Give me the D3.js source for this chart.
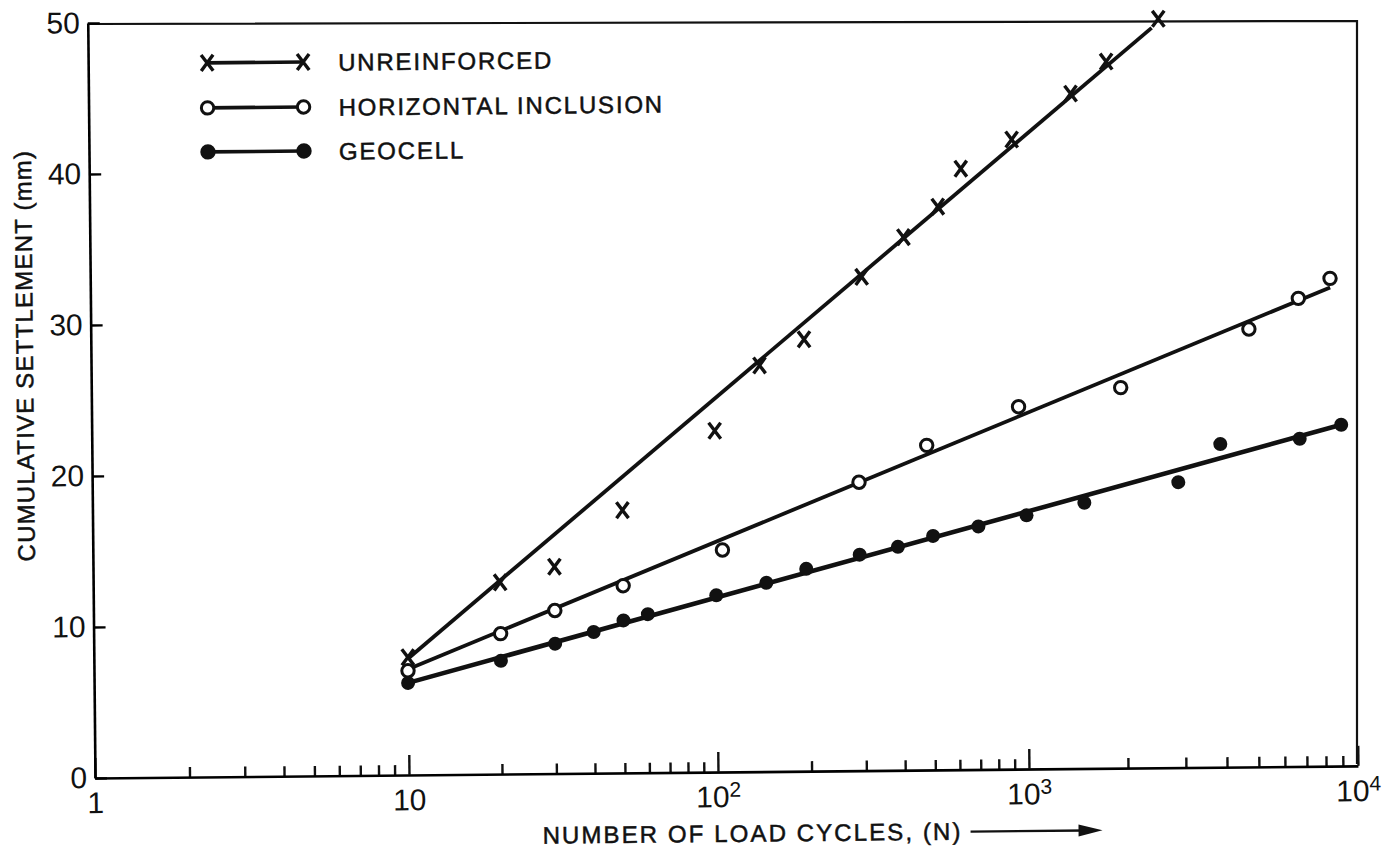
<!DOCTYPE html>
<html>
<head>
<meta charset="utf-8">
<script src="https://d3js.org/d3.v7.min.js"></script>
<style>
body { margin: 0; background: #fff; }
svg { display: block; }
text { font-family: "Liberation Sans", Arial, sans-serif; fill: #111; }
</style>
</head>
<body>
<div id="svg_div"><svg></svg></div>
<script>
// values (N = load cycles, S = settlement in mm)
var unreinfN = [10, 20, 30, 50, 100, 140, 195, 300, 410, 530, 630, 920, 1400, 1800, 2600];
var unreinfS = [7.8, 12.7, 13.7, 17.4, 22.6, 26.9, 28.6, 32.7, 35.3, 37.3, 39.8, 41.7, 44.7, 46.8, 49.6];
var horizN = [10, 20, 30, 50, 105, 290, 480, 950, 1950, 4800, 6800, 8500];
var horizS = [6.9, 9.3, 10.8, 12.4, 14.7, 19.1, 21.5, 24.0, 25.2, 29.0, 31.0, 32.3];
var geoN = [10, 20, 30, 40, 50, 60, 100, 145, 195, 290, 385, 500, 700, 1000, 1500, 2900, 3900, 6800, 9100];
var geoS = [6.1, 7.5, 8.6, 9.35, 10.1, 10.5, 11.7, 12.5, 13.4, 14.3, 14.8, 15.5, 16.1, 16.8, 17.6, 18.9, 21.4, 21.7, 22.6];

// fitted straight lines (end points)
var unreinfFitN = [10, 2480];
var unreinfFitS = [7.7, 49.0];
var horizFitN = [10, 8500];
var horizFitS = [7.0, 31.7];
var geoFitN = [10, 9100];
var geoFitS = [6.1, 22.6];

// axes
var xMajor = [1, 10, 100, 1000, 10000];
var xMajorBase = ["1", "10", "10", "10", "10"];
var xMajorExp = ["", "", "2", "3", "4"];
var yTicks = [0, 10, 20, 30, 40, 50];
var legendNames = ["UNREINFORCED", "HORIZONTAL INCLUSION", "GEOCELL"];

var w = 1390, h = 853;
var x0 = 95, yBase = 778;
var ink = "#111";

var svg = d3.select("#svg_div").select("svg")
	.attr("width", w)
	.attr("height", h);

var xScale = d3.scaleLog()
	.domain(xMajor)
	.range([95, 409, 718, 1029, 1358]);
var yScale = d3.scaleLinear()
	.domain([0, 50])
	.range([yBase, 23]);

// top and right edge of the frame (these stay level in the scan)
svg.append("path")
	.attr("d", "M" + (xScale(1) - 6) + "," + (yScale(50) + 1) +
		"L" + (xScale(10000) - 1) + "," + (yScale(50) - 2) +
		"L" + (xScale(10000) - 1) + "," + (yScale(0) - 14))
	.attr("fill", "none")
	.attr("stroke", ink)
	.attr("stroke-width", 2.2);

// the rest of the scanned figure is a little tilted
var g = svg.append("g")
	.attr("transform", "rotate(-0.55," + x0 + "," + yBase + ")");

// minor ticks 2..9 in every decade
var xMinor = [];
for (var d = 1; d < 10000; d *= 10)
	for (var k = 2; k < 10; k++)
		xMinor.push(d * k);

var xMinorAxis = g.append("g")
	.attr("transform", "translate(0," + yBase + ")")
	.call(d3.axisBottom(xScale).tickValues(xMinor).tickSizeInner(-10).tickSizeOuter(0).tickFormat(""));
xMinorAxis.select(".domain").remove();

var xAxis = g.append("g")
	.attr("transform", "translate(0," + yBase + ")")
	.call(d3.axisBottom(xScale).tickValues(xMajor).tickSizeInner(-20).tickSizeOuter(0).tickPadding(14)
		.tickFormat(function(d, i) { return xMajorBase[i]; }));
xAxis.select(".domain").attr("stroke-width", 2.6);
xAxis.selectAll("text")
	.attr("font-size", "30px")
	.attr("font-family", "Liberation Sans, Arial, sans-serif")
	.each(function(d, i) {
		if (xMajorExp[i] != "") {
			d3.select(this).append("tspan")
				.attr("dy", "-0.5em")
				.attr("font-size", "21px")
				.text(xMajorExp[i]);
		}
	});
g.selectAll(".tick line").attr("stroke", ink).attr("stroke-width", 2.4);

var yAxis = g.append("g")
	.attr("transform", "translate(" + x0 + ",0)")
	.call(d3.axisLeft(yScale).tickValues(yTicks).tickSizeInner(-12).tickSizeOuter(0).tickPadding(8));
yAxis.select(".domain").attr("stroke-width", 2.6);
yAxis.selectAll("text")
	.attr("font-size", "30px")
	.attr("font-family", "Liberation Sans, Arial, sans-serif");
yAxis.selectAll(".tick line").attr("stroke-width", 2.4);

// axis titles
g.append("text")
	.attr("transform", "translate(37,355) rotate(-90)")
	.attr("text-anchor", "middle")
	.attr("font-size", "24px")
	.attr("letter-spacing", "1.2px")
	.attr("stroke", ink)
	.attr("stroke-width", 0.5)
	.text("CUMULATIVE SETTLEMENT (mm)");

var xTitle = g.append("text")
	.attr("x", 752)
	.attr("y", 848)
	.attr("text-anchor", "middle")
	.attr("font-size", "24px")
	.attr("letter-spacing", "2.1px")
	.attr("stroke", ink)
	.attr("stroke-width", 0.5)
	.text("NUMBER OF LOAD CYCLES, (N)");
var tEnd = 752 + xTitle.node().getComputedTextLength() / 2;
g.append("line")
	.attr("x1", tEnd + 8).attr("x2", tEnd + 122)
	.attr("y1", 840).attr("y2", 840)
	.attr("stroke", ink).attr("stroke-width", 2.4);
g.append("path")
	.attr("d", "M" + (tEnd + 116) + ",834L" + (tEnd + 140) + ",840L" + (tEnd + 116) + ",846Z")
	.attr("fill", ink);

// fitted lines
var line = d3.line()
	.x(function(d) { return xScale(d[0]); })
	.y(function(d) { return yScale(d[1]); });

function pairs(a, b) {
	return a.map(function(v, i) { return [v, b[i]]; });
}

g.append("path").datum(pairs(unreinfFitN, unreinfFitS))
	.attr("d", line).attr("fill", "none").attr("stroke", ink).attr("stroke-width", 3.8);
g.append("path").datum(pairs(horizFitN, horizFitS))
	.attr("d", line).attr("fill", "none").attr("stroke", ink).attr("stroke-width", 3.8);
g.append("path").datum(pairs(geoFitN, geoFitS))
	.attr("d", line).attr("fill", "none").attr("stroke", ink).attr("stroke-width", 4.6);

// markers
var crossPath = "M-6,-8L6,8M6,-8L-6,8";

g.selectAll(".cross")
	.data(pairs(unreinfN, unreinfS))
	.enter()
	.append("path")
	.attr("class", "cross")
	.attr("transform", function(d) { return "translate(" + xScale(d[0]) + "," + yScale(d[1]) + ")"; })
	.attr("d", crossPath)
	.attr("fill", "none")
	.attr("stroke", ink)
	.attr("stroke-width", 3.4);

g.selectAll(".ring")
	.data(pairs(horizN, horizS))
	.enter()
	.append("circle")
	.attr("class", "ring")
	.attr("cx", function(d) { return xScale(d[0]); })
	.attr("cy", function(d) { return yScale(d[1]); })
	.attr("r", 6.2)
	.attr("fill", "#fff")
	.attr("stroke", ink)
	.attr("stroke-width", 3);

g.selectAll(".dot")
	.data(pairs(geoN, geoS))
	.enter()
	.append("circle")
	.attr("class", "dot")
	.attr("cx", function(d) { return xScale(d[0]); })
	.attr("cy", function(d) { return yScale(d[1]); })
	.attr("r", 7)
	.attr("fill", ink);

// legend
var legY = [64, 109, 153];
var legX1 = 214, legX2 = 310;
legendNames.forEach(function(name, i) {
	var y = legY[i];
	g.append("line")
		.attr("x1", legX1).attr("x2", legX2)
		.attr("y1", y).attr("y2", y)
		.attr("stroke", ink).attr("stroke-width", 3.6);
	[legX1, legX2].forEach(function(x) {
		if (i == 0) {
			g.append("path")
				.attr("transform", "translate(" + x + "," + y + ")")
				.attr("d", crossPath)
				.attr("fill", "none").attr("stroke", ink).attr("stroke-width", 3.4);
		} else {
			g.append("circle")
				.attr("cx", x).attr("cy", y).attr("r", 6.2)
				.attr("fill", i == 1 ? "#fff" : ink)
				.attr("stroke", ink).attr("stroke-width", 3);
		}
	});
	g.append("text")
		.attr("x", 345)
		.attr("y", y + 9)
		.attr("font-size", "24px")
		.attr("letter-spacing", "1.8px")
		.attr("stroke", ink)
		.attr("stroke-width", 0.5)
		.text(name);
});
</script>
</body>
</html>
